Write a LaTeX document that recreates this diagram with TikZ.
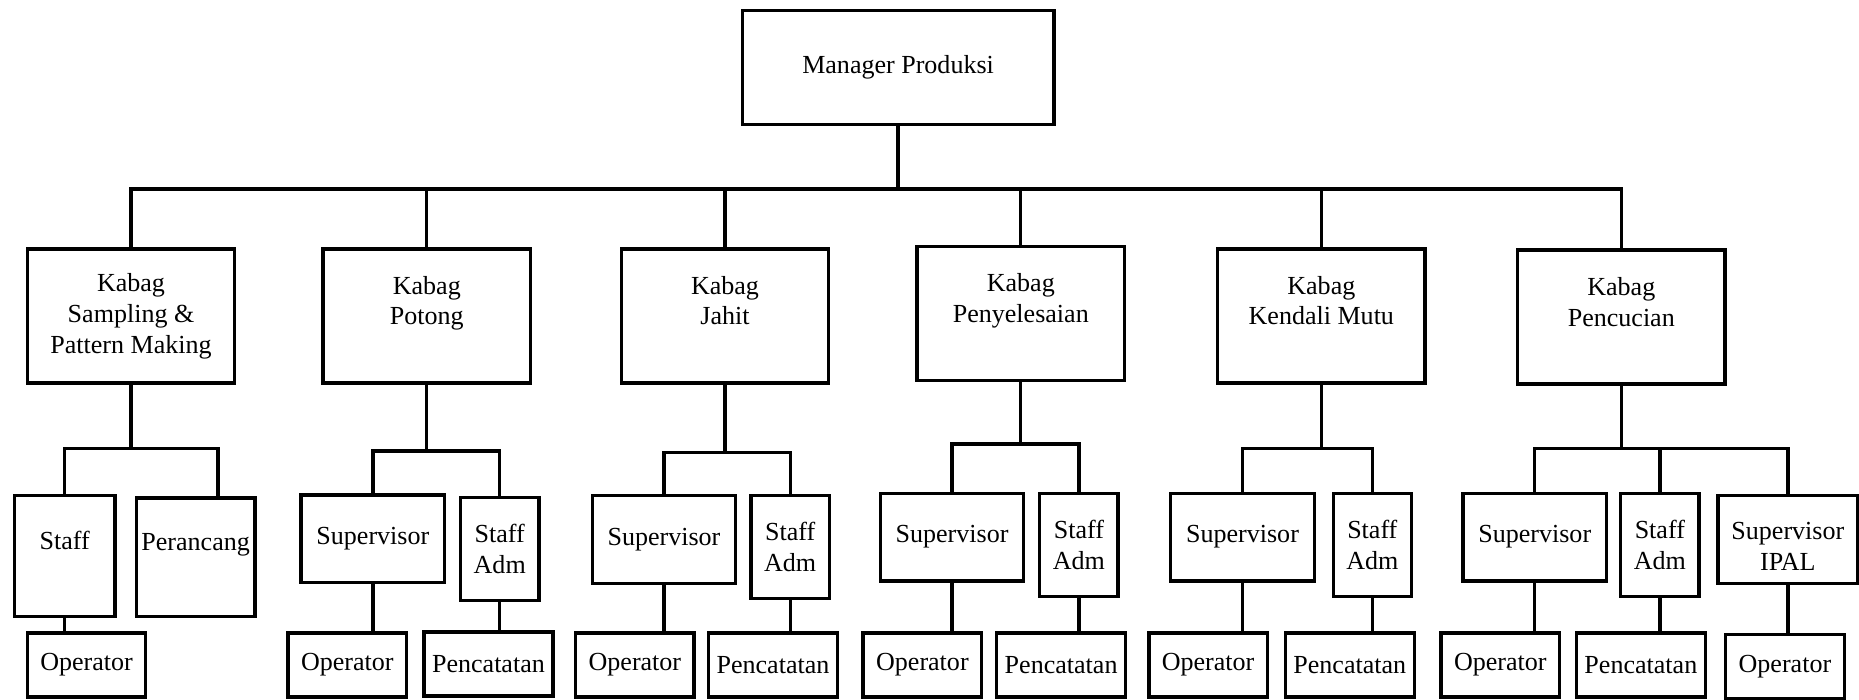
\documentclass[tikz,border=0pt]{standalone}
\usepackage{fontspec}
\setmainfont{Liberation Serif}
\usepackage{tikz}
\usetikzlibrary{positioning,calc}
\tikzset{
	every node/.style={font=\fontsize{12.5}{14.8}\selectfont}
}
\tikzset{
	box/.style={rectangle,draw,inner sep=0pt,align=center},
	head node/.style={box,minimum width=5.26cm,minimum height=1.92cm},
	kabag node/.style={box,minimum width=3.5cm,minimum height=2.26cm},
	spv node/.style={box,minimum width=2.42cm,minimum height=1.48cm},
	adm node/.style={box,minimum width=1.32cm,minimum height=1.74cm},
	op node/.style={box,minimum width=2cm,minimum height=1.08cm},
	rec node/.style={box,minimum width=2.18cm,minimum height=1.08cm}
}

\begin{document}
\begin{tikzpicture}[x=0.02cm,y=-0.02cm,line width=1.6pt]
      \useasboundingbox (0,0) rectangle (1568,590);
      % manager and kabag
      \node[head node] (mgr) at (757.5,57) {Manager Produksi};
      \node[kabag node] (samp) at (110.5,266.5) {Kabag\\Sampling \&\\Pattern Making};
      \node[kabag node] (potong) at (360,266.5) {Kabag\\Potong\\~};
      \node[kabag node] (jahit) at (611.5,266.5) {Kabag\\Jahit\\~};
      \node[kabag node] (selesai) at (861,264.5) {Kabag\\Penyelesaian\\~};
      \node[kabag node] (mutu) at (1114.5,266.5) {Kabag\\Kendali Mutu\\~};
      \node[kabag node] (cuci) at (1367.5,267.5) {Kabag\\Pencucian\\~};
      \draw (mgr.south) -- ++(0,53) coordinate (top);
      \draw (top) -| (samp.north);
      \draw (top) -| (potong.north);
      \draw (top) -| (jahit.north);
      \draw (top) -| (selesai.north);
      \draw (top) -| (mutu.north);
      \draw (top) -| (cuci.north);
      % sampling
      \node[box,minimum width=1.7cm,minimum height=2.04cm] (sampstaff) at (54.5,469) {Staff\\~};
      \node[box,minimum width=2cm,minimum height=2cm] (rancang) at (165,470) {Perancang\\~};
      \node[op node] (sampop) at (73,561) {Operator};
      \draw (samp.south) -- ++(0,54) coordinate (b1);
      \draw (b1) -| (sampstaff.north);
      \draw (b1) -| ([xshift=0.38cm]rancang.north);
      \path (sampstaff.south) edge (sampstaff.south |- sampop.north);
      % potong
      \node[spv node] (potspv) at (314.5,454.5) {Supervisor};
      \node[adm node] (potadm) at (421.5,463) {Staff\\Adm};
      \node[op node] (potop) at (293,561) {Operator};
      \node[rec node] (potcat) at (412,560) {Pencatatan};
      \draw (potong.south) -- ++(0,56) coordinate (b2);
      \draw (b2) -| (potspv.north);
      \draw (b2) -| (potadm.north);
      \path (potspv.south) edge (potspv.south |- potop.north);
      \path (potadm.south) edge (potadm.south |- potcat.north);
      % jahit
      \node[spv node] (jhtspv) at (560,455) {Supervisor};
      \node[adm node] (jhtadm) at (666.5,461.5) {Staff\\Adm};
      \node[op node] (jhtop) at (535.5,561) {Operator};
      \node[rec node] (jhtcat) at (652,561) {Pencatatan};
      \draw (jahit.south) -- ++(0,57) coordinate (b3);
      \draw (b3) -| (jhtspv.north);
      \draw (b3) -| (jhtadm.north);
      \path (jhtspv.south) edge (jhtspv.south |- jhtop.north);
      \path (jhtadm.south) edge (jhtadm.south |- jhtcat.north);
      % penyelesaian
      \node[spv node] (slsspv) at (803,453) {Supervisor};
      \node[adm node] (slsadm) at (910,459.5) {Staff\\Adm};
      \node[op node] (slsop) at (778,561) {Operator};
      \node[rec node] (slscat) at (895,561) {Pencatatan};
      \draw (selesai.south) -- ++(0,52) coordinate (b4);
      \draw (b4) -| (slsspv.north);
      \draw (b4) -| (slsadm.north);
      \path (slsspv.south) edge (slsspv.south |- slsop.north);
      \path (slsadm.south) edge (slsadm.south |- slscat.north);
      % kendali mutu
      \node[spv node] (mtuspv) at (1048,453) {Supervisor};
      \node[adm node] (mtuadm) at (1157.5,459.5) {Staff\\Adm};
      \node[op node] (mtuop) at (1019,561) {Operator};
      \node[rec node] (mtucat) at (1138.5,561) {Pencatatan};
      \draw (mutu.south) -- ++(0,54) coordinate (b5);
      \draw (b5) -| (mtuspv.north);
      \draw (b5) -| (mtuadm.north);
      \path (mtuspv.south) edge (mtuspv.south |- mtuop.north);
      \path (mtuadm.south) edge (mtuadm.south |- mtucat.north);
      % pencucian
      \node[spv node] (ccispv) at (1294.5,453) {Supervisor};
      \node[adm node] (cciadm) at (1400,459.5) {Staff\\Adm};
      \node[spv node,minimum width=2.36cm] (ipal) at (1508,455) {~\\Supervisor\\IPAL};
      \node[op node] (cciop) at (1265.5,561) {Operator};
      \node[rec node] (ccicat) at (1384,561) {Pencatatan};
      \node[op node] (ipalop) at (1505.5,562) {Operator};
      \draw (cuci.south) -- ++(0,53) coordinate (b6);
      \draw (b6) -| (ccispv.north);
      \draw (b6) -| (cciadm.north);
      \draw (b6) -| (ipal.north);
      \path (ccispv.south) edge (ccispv.south |- cciop.north);
      \path (cciadm.south) edge (cciadm.south |- ccicat.north);
      \path (ipal.south) edge (ipal.south |- ipalop.north);
    \end{tikzpicture}
\end{document}
